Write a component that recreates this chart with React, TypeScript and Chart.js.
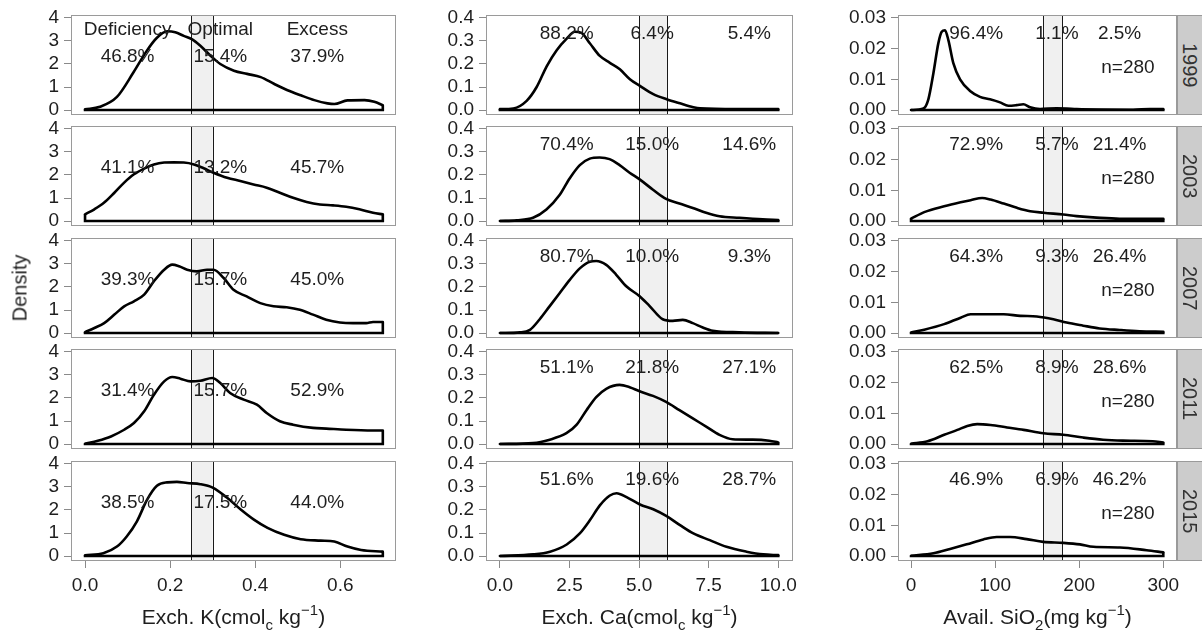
import React, { useEffect, useRef } from 'react';
import { Chart, registerables } from 'chart.js';

Chart.register(...registerables);

// ---------- DATA ----------
const YEARS = ['1999', '2003', '2007', '2011', '2015'];
const CLASS_NAMES = ['Deficiency', 'Optimal', 'Excess'];
const SAMPLE_N = ['n=280', 'n=280', 'n=280', 'n=280', 'n=280'];

// Exch. K density curves [x, density]
const K_1999 = [[0, 0.03], [0.035, 0.14], [0.075, 0.57], [0.114, 1.64], [0.145, 2.57], [0.169, 3.14], [0.193, 3.42], [0.212, 3.38], [0.232, 3.22], [0.252, 3.07], [0.271, 2.79], [0.295, 2.36], [0.318, 2.0], [0.35, 1.71], [0.381, 1.57], [0.413, 1.43], [0.444, 1.14], [0.476, 0.86], [0.507, 0.64], [0.539, 0.43], [0.57, 0.29], [0.586, 0.26], [0.617, 0.42], [0.657, 0.43], [0.68, 0.36], [0.7, 0.21]];
const K_2003 = [[0, 0.29], [0.022, 0.51], [0.045, 0.8], [0.069, 1.23], [0.092, 1.67], [0.115, 2.03], [0.139, 2.28], [0.162, 2.46], [0.186, 2.54], [0.209, 2.55], [0.232, 2.54], [0.256, 2.46], [0.279, 2.29], [0.302, 2.1], [0.334, 1.88], [0.365, 1.74], [0.396, 1.59], [0.427, 1.45], [0.458, 1.23], [0.489, 1.01], [0.521, 0.83], [0.552, 0.72], [0.583, 0.68], [0.614, 0.62], [0.645, 0.51], [0.677, 0.36], [0.7, 0.29]];
const K_2007 = [[0, 0.04], [0.022, 0.22], [0.045, 0.43], [0.069, 0.8], [0.092, 1.16], [0.115, 1.38], [0.139, 1.67], [0.162, 2.25], [0.186, 2.75], [0.205, 2.97], [0.221, 2.9], [0.24, 2.75], [0.263, 2.68], [0.287, 2.75], [0.302, 2.75], [0.326, 2.39], [0.349, 1.88], [0.38, 1.59], [0.412, 1.3], [0.443, 1.16], [0.474, 1.12], [0.505, 1.01], [0.536, 0.8], [0.567, 0.58], [0.599, 0.46], [0.63, 0.43], [0.661, 0.43], [0.677, 0.48], [0.7, 0.48]];
const K_2011 = [[0, 0.01], [0.03, 0.14], [0.061, 0.33], [0.092, 0.62], [0.115, 0.91], [0.139, 1.42], [0.162, 2.14], [0.186, 2.72], [0.205, 2.91], [0.224, 2.84], [0.248, 2.72], [0.271, 2.75], [0.299, 2.87], [0.318, 2.65], [0.341, 2.22], [0.373, 1.93], [0.404, 1.71], [0.427, 1.35], [0.458, 0.99], [0.489, 0.84], [0.536, 0.7], [0.567, 0.67], [0.614, 0.62], [0.677, 0.59], [0.7, 0.59]];
const K_2015 = [[0, 0.03], [0.043, 0.12], [0.075, 0.41], [0.098, 0.85], [0.122, 1.51], [0.146, 2.45], [0.169, 3.05], [0.193, 3.2], [0.216, 3.22], [0.24, 3.17], [0.271, 3.12], [0.3, 2.97], [0.334, 2.53], [0.366, 2.02], [0.397, 1.58], [0.429, 1.22], [0.468, 0.92], [0.507, 0.73], [0.554, 0.67], [0.586, 0.63], [0.617, 0.41], [0.649, 0.26], [0.7, 0.19]];

// Exch. Ca density curves
const CA_1999 = [[0, 0.004], [0.48, 0.007], [0.96, 0.04], [1.32, 0.1], [1.68, 0.19], [2.04, 0.26], [2.4, 0.31], [2.69, 0.34], [2.93, 0.335], [3.23, 0.29], [3.59, 0.235], [3.95, 0.205], [4.31, 0.177], [4.67, 0.134], [5.03, 0.105], [5.51, 0.069], [5.99, 0.047], [6.47, 0.029], [6.95, 0.012], [7.19, 0.007], [8.5, 0.004], [10, 0.004]];
const CA_2003 = [[0, 0.0], [0.6, 0.003], [1.19, 0.014], [1.67, 0.05], [2.15, 0.114], [2.51, 0.186], [2.87, 0.243], [3.23, 0.271], [3.58, 0.276], [3.94, 0.269], [4.3, 0.243], [4.66, 0.21], [5.02, 0.181], [5.5, 0.136], [5.97, 0.096], [6.45, 0.076], [6.93, 0.057], [7.41, 0.036], [7.89, 0.021], [8.6, 0.014], [9.44, 0.007], [10, 0.004]];
const CA_2007 = [[0, 0.0], [0.72, 0.003], [1.08, 0.014], [1.43, 0.06], [1.79, 0.117], [2.15, 0.174], [2.51, 0.231], [2.87, 0.281], [3.23, 0.31], [3.46, 0.313], [3.82, 0.296], [4.18, 0.253], [4.54, 0.203], [5.02, 0.16], [5.38, 0.117], [5.85, 0.06], [6.21, 0.053], [6.57, 0.057], [6.93, 0.043], [7.29, 0.024], [7.65, 0.01], [8.6, 0.003], [10, 0.0]];
const CA_2011 = [[0, 0.0], [1.19, 0.004], [1.79, 0.019], [2.39, 0.047], [2.75, 0.083], [3.11, 0.147], [3.46, 0.204], [3.82, 0.24], [4.3, 0.257], [4.66, 0.247], [5.02, 0.229], [5.5, 0.209], [5.97, 0.183], [6.45, 0.147], [6.93, 0.111], [7.41, 0.076], [7.89, 0.04], [8.36, 0.021], [9.08, 0.019], [9.68, 0.014], [10, 0.007]];
const CA_2015 = [[0, 0.0], [1.2, 0.007], [1.8, 0.019], [2.4, 0.05], [2.87, 0.098], [3.23, 0.155], [3.59, 0.22], [3.95, 0.263], [4.19, 0.273], [4.55, 0.256], [5.03, 0.224], [5.51, 0.203], [5.99, 0.173], [6.47, 0.134], [6.95, 0.098], [7.54, 0.069], [8.14, 0.04], [8.86, 0.019], [9.46, 0.007], [10, 0.004]];

// Avail. SiO2 density curves
const SI_1999 = [[0, 0.0], [14.7, 0.0005], [20.6, 0.0035], [26.6, 0.012], [32.5, 0.0218], [36.5, 0.0255], [40.4, 0.026], [44.4, 0.0228], [50.3, 0.0153], [58.3, 0.01], [70.2, 0.0062], [82, 0.0043], [93.9, 0.0035], [105.8, 0.0025], [115.7, 0.0014], [125.6, 0.0016], [133.6, 0.0019], [141.5, 0.0009], [153.4, 0.0003], [173.2, 0.0006], [185, 0.0005], [197, 0.0003], [264, 0.0001], [284, 0.0003], [300, 0.0003]];
const SI_2003 = [[0, 0.00075], [15.7, 0.0029], [39.4, 0.0048], [59, 0.0061], [70.9, 0.0068], [84.6, 0.0075], [94.5, 0.007], [110.2, 0.0057], [126, 0.0043], [141.7, 0.0032], [157.5, 0.0027], [181, 0.0021], [196.9, 0.0016], [220.5, 0.0011], [248, 0.00075], [300, 0.00075]];
const SI_2007 = [[0, 0.0002], [15.7, 0.0011], [39.4, 0.0029], [59, 0.005], [70.9, 0.0061], [90.6, 0.0061], [110.2, 0.0061], [129.9, 0.0056], [149.6, 0.0054], [169.3, 0.0045], [185, 0.0034], [204.7, 0.0024], [224.4, 0.0015], [248, 0.001], [271.7, 0.0006], [300, 0.0004]];
const SI_2011 = [[0, 0.0001], [19.7, 0.0009], [39.4, 0.003], [55.1, 0.0046], [66.9, 0.0059], [78.7, 0.0065], [94.5, 0.0062], [114.2, 0.0054], [133.9, 0.0046], [157.5, 0.0035], [181, 0.003], [204.7, 0.0021], [228.3, 0.0014], [252, 0.0011], [287.4, 0.0009], [300, 0.0005]];
const SI_2015 = [[0, 0.0001], [26.6, 0.0009], [46.4, 0.0023], [66.2, 0.0038], [86, 0.0054], [101.9, 0.0062], [117.7, 0.0062], [137.5, 0.0055], [157.3, 0.0046], [181.1, 0.0043], [200.9, 0.0038], [216.8, 0.003], [248.5, 0.0028], [280.2, 0.0019], [300, 0.0012]];

// Class shares per year
const K_PCT = [['46.8%', '15.4%', '37.9%'], ['41.1%', '13.2%', '45.7%'], ['39.3%', '15.7%', '45.0%'], ['31.4%', '15.7%', '52.9%'], ['38.5%', '17.5%', '44.0%']];
const CA_PCT = [['88.2%', '6.4%', '5.4%'], ['70.4%', '15.0%', '14.6%'], ['80.7%', '10.0%', '9.3%'], ['51.1%', '21.8%', '27.1%'], ['51.6%', '19.6%', '28.7%']];
const SI_PCT = [['96.4%', '1.1%', '2.5%'], ['72.9%', '5.7%', '21.4%'], ['64.3%', '9.3%', '26.4%'], ['62.5%', '8.9%', '28.6%'], ['46.9%', '6.9%', '46.2%']];

// Optimal ranges
const K_OPT = [0.25, 0.3];
const CA_OPT = [5, 6];
const SI_OPT = [157, 180];

// Tick values
const K_TICKS_X = [0, 0.2, 0.4, 0.6];
const K_TICKS_Y = [0, 1, 2, 3, 4];
const CA_TICKS_X = [0, 2.5, 5, 7.5, 10];
const CA_TICKS_Y = [0, 0.1, 0.2, 0.3, 0.4];
const SI_TICKS_X = [0, 100, 200, 300];
const SI_TICKS_Y = [0, 0.01, 0.02, 0.03];

// ---------- LAYOUT / STYLE ----------
const FONT = '"Liberation Sans", Arial, Helvetica, sans-serif';
const ROW_TOPS = [15, 126, 238, 349, 461];
const BOX_H = 100;
const Y_AXIS_W = 70;
const PAD_T = 12;
const PAD_R = 30;
const PAD_B = 12;
const X_AXIS_H = 45;

type Col = {
  left: number; width: number;
  xMin: number; xMax: number; yTop: number;
  xTicks: number[]; yTicks: number[]; xDec: number; yDec: number;
  curves: number[][][]; pct: string[][]; opt: number[];
  pctX: number[]; pctY: number; header?: boolean; nLabel?: { x: number; y: number };
};

const COLS: Col[] = [
  { left: 71, width: 325, xMin: -0.033, xMax: 0.731, yTop: 4, xTicks: K_TICKS_X, yTicks: K_TICKS_Y, xDec: 1, yDec: 0,
    curves: [K_1999, K_2003, K_2007, K_2011, K_2015], pct: K_PCT, opt: K_OPT, pctX: [0.1, 0.318, 0.546], pctY: 2.32, header: true },
  { left: 486, width: 307, xMin: -0.5, xMax: 10.53, yTop: 0.4, xTicks: CA_TICKS_X, yTicks: CA_TICKS_Y, xDec: 1, yDec: 1,
    curves: [CA_1999, CA_2003, CA_2007, CA_2011, CA_2015], pct: CA_PCT, opt: CA_OPT, pctX: [2.4, 5.47, 8.96], pctY: 0.333 },
  { left: 898, width: 279, xMin: -15.5, xMax: 316.3, yTop: 0.03, xTicks: SI_TICKS_X, yTicks: SI_TICKS_Y, xDec: 0, yDec: 2,
    curves: [SI_1999, SI_2003, SI_2007, SI_2011, SI_2015], pct: SI_PCT, opt: SI_OPT, pctX: [77.5, 173.5, 248], pctY: 0.025,
    nLabel: { x: 258, y: 0.0139 } },
];

function Panel({ col, row }: { col: number; row: number }) {
  const ref = useRef<HTMLCanvasElement | null>(null);
  const c = COLS[col];
  const bottom = row === ROW_TOPS.length - 1;
  const w = Y_AXIS_W + c.width + PAD_R;
  const h = PAD_T + BOX_H + (bottom ? X_AXIS_H : PAD_B);

  useEffect(() => {
    const canvas = ref.current;
    if (!canvas) return;
    const pts = c.curves[row].map(([x, y]) => ({ x, y }));
    const first = pts[0];
    const last = pts[pts.length - 1];
    const outline = [
      { x: last.x, y: last.y }, { x: last.x, y: 0 }, { x: first.x, y: 0 }, { x: first.x, y: first.y },
    ];
    const deco = {
      id: 'deco',
      beforeDatasetsDraw(chart: any) {
        const { ctx, chartArea: a, scales } = chart;
        const xs = scales.x;
        const x0 = xs.getPixelForValue(c.opt[0]);
        const x1 = xs.getPixelForValue(c.opt[1]);
        ctx.save();
        ctx.fillStyle = '#f0f0f0';
        ctx.fillRect(x0, a.top, x1 - x0, a.bottom - a.top);
        ctx.strokeStyle = '#1a1a1a';
        ctx.lineWidth = 1;
        for (const px of [x0, x1]) {
          const p = Math.round(px) + 0.5;
          ctx.beginPath();
          ctx.moveTo(p, a.top);
          ctx.lineTo(p, a.bottom);
          ctx.stroke();
        }
        ctx.restore();
      },
      afterDatasetsDraw(chart: any) {
        const { ctx, scales } = chart;
        const xs = scales.x, ys = scales.y;
        ctx.save();
        ctx.font = `19px ${FONT}`;
        ctx.fillStyle = '#1e1e1e';
        ctx.textAlign = 'center';
        ctx.textBaseline = 'middle';
        c.pct[row].forEach((t, i) => {
          ctx.fillText(t, xs.getPixelForValue(c.pctX[i]), ys.getPixelForValue(c.pctY));
        });
        if (c.header && row === 0) {
          CLASS_NAMES.forEach((t, i) => {
            ctx.fillText(t, xs.getPixelForValue(c.pctX[i]), ys.getPixelForValue(c.yTop * 0.875));
          });
        }
        if (c.nLabel) {
          ctx.fillText(SAMPLE_N[row], xs.getPixelForValue(c.nLabel.x), ys.getPixelForValue(c.nLabel.y));
        }
        ctx.restore();
      },
      afterDraw(chart: any) {
        const { ctx, chartArea: a } = chart;
        ctx.save();
        ctx.strokeStyle = '#9a9a9a';
        ctx.lineWidth = 1;
        ctx.strokeRect(Math.round(a.left) + 0.5, Math.round(a.top) + 0.5, Math.round(a.right - a.left) - 1, Math.round(a.bottom - a.top) - 1);
        ctx.restore();
      },
    };

    const zeroPad = (s: any) => { s.paddingTop = 0; s.paddingBottom = 0; s.paddingLeft = 0; s.paddingRight = 0; };

    const chart = new Chart(canvas, {
      type: 'line',
      data: {
        datasets: [
          { data: pts, borderColor: '#000', borderWidth: 2.6, pointRadius: 0, fill: false, cubicInterpolationMode: 'monotone', borderJoinStyle: 'round', borderCapStyle: 'round' } as any,
          { data: outline, borderColor: '#000', borderWidth: 2.6, pointRadius: 0, fill: false, tension: 0, borderJoinStyle: 'miter' } as any,
        ],
      },
      options: {
        animation: false,
        responsive: false,
        maintainAspectRatio: false,
        devicePixelRatio: 1,
        events: [],
        layout: { padding: { left: 0, top: PAD_T, right: PAD_R, bottom: bottom ? 0 : PAD_B } },
        plugins: { legend: { display: false }, tooltip: { enabled: false }, title: { display: false } },
        scales: {
          x: {
            type: 'linear',
            min: c.xMin,
            max: c.xMax,
            display: bottom,
            afterBuildTicks: (s: any) => { s.ticks = c.xTicks.map((v) => ({ value: v })); },
            afterFit: (s: any) => { s.height = bottom ? X_AXIS_H : 0; zeroPad(s); },
            ticks: {
              autoSkip: false, maxRotation: 0, minRotation: 0, padding: 6, color: '#1e1e1e',
              font: { family: FONT, size: 19 },
              callback: (v: any) => Number(v).toFixed(c.xDec),
            },
            grid: { display: true, drawOnChartArea: false, drawTicks: true, tickLength: 7, color: '#8a8a8a', lineWidth: 1 },
            border: { display: false },
          },
          y: {
            type: 'linear',
            position: 'left',
            min: -0.054 * c.yTop,
            max: 1.032 * c.yTop,
            afterBuildTicks: (s: any) => { s.ticks = c.yTicks.map((v) => ({ value: v })); },
            afterFit: (s: any) => { s.width = Y_AXIS_W; zeroPad(s); },
            ticks: {
              autoSkip: false, padding: 5, color: '#1e1e1e',
              font: { family: FONT, size: 19 },
              callback: (v: any) => Number(v).toFixed(c.yDec),
            },
            grid: { display: true, drawOnChartArea: false, drawTicks: true, tickLength: 7, color: '#8a8a8a', lineWidth: 1 },
            border: { display: false },
          },
        },
      },
      plugins: [deco],
    } as any);
    return () => chart.destroy();
  }, []);

  return (
    <canvas
      ref={ref}
      width={w}
      height={h}
      style={{ position: 'absolute', left: c.left - Y_AXIS_W, top: ROW_TOPS[row] - PAD_T, width: w, height: h }}
    />
  );
}

const titleStyle: React.CSSProperties = {
  position: 'absolute', top: 604, height: 26, lineHeight: '26px', fontFamily: FONT, fontSize: 21,
  color: '#1e1e1e', whiteSpace: 'nowrap', transform: 'translateX(-50%)',
};
const subStyle: React.CSSProperties = { fontSize: 15, position: 'relative', top: 6 };
const supStyle: React.CSSProperties = { fontSize: 15, position: 'relative', top: -9 };

export default function App() {
  const panels: React.ReactNode[] = [];
  COLS.forEach((_, ci) => {
    ROW_TOPS.forEach((_, ri) => {
      panels.push(<Panel key={`${ci}-${ri}`} col={ci} row={ri} />);
    });
  });
  return (
    <div style={{ position: 'absolute', left: 0, top: 0, width: 1202, height: 634, background: '#fff', overflow: 'hidden' }}>
      {panels}
      {ROW_TOPS.map((t, i) => (
        <div key={`s${i}`} style={{
          position: 'absolute', left: 1177, top: t, width: 27, height: BOX_H, boxSizing: 'border-box',
          background: '#cccccc', border: '1px solid #9a9a9a', display: 'flex', alignItems: 'center', justifyContent: 'center',
        }}>
          <span style={{ writingMode: 'vertical-rl', fontFamily: FONT, fontSize: 20, color: '#333', marginLeft: -3 }}>{YEARS[i]}</span>
        </div>
      ))}
      <div style={{
        position: 'absolute', left: 20, top: 288, fontFamily: FONT, fontSize: 20, color: '#1e1e1e',
        transform: 'translate(-50%, -50%) rotate(-90deg)', whiteSpace: 'nowrap',
      }}>Density</div>
      <div style={{ ...titleStyle, left: COLS[0].left + COLS[0].width / 2 }}>
        Exch. K(cmol<span style={subStyle}>c</span> kg<span style={supStyle}>−1</span>)
      </div>
      <div style={{ ...titleStyle, left: COLS[1].left + COLS[1].width / 2 }}>
        Exch. Ca(cmol<span style={subStyle}>c</span> kg<span style={supStyle}>−1</span>)
      </div>
      <div style={{ ...titleStyle, left: COLS[2].left + COLS[2].width / 2 }}>
        Avail. SiO<span style={subStyle}>2</span>(mg kg<span style={supStyle}>−1</span>)
      </div>
    </div>
  );
}
